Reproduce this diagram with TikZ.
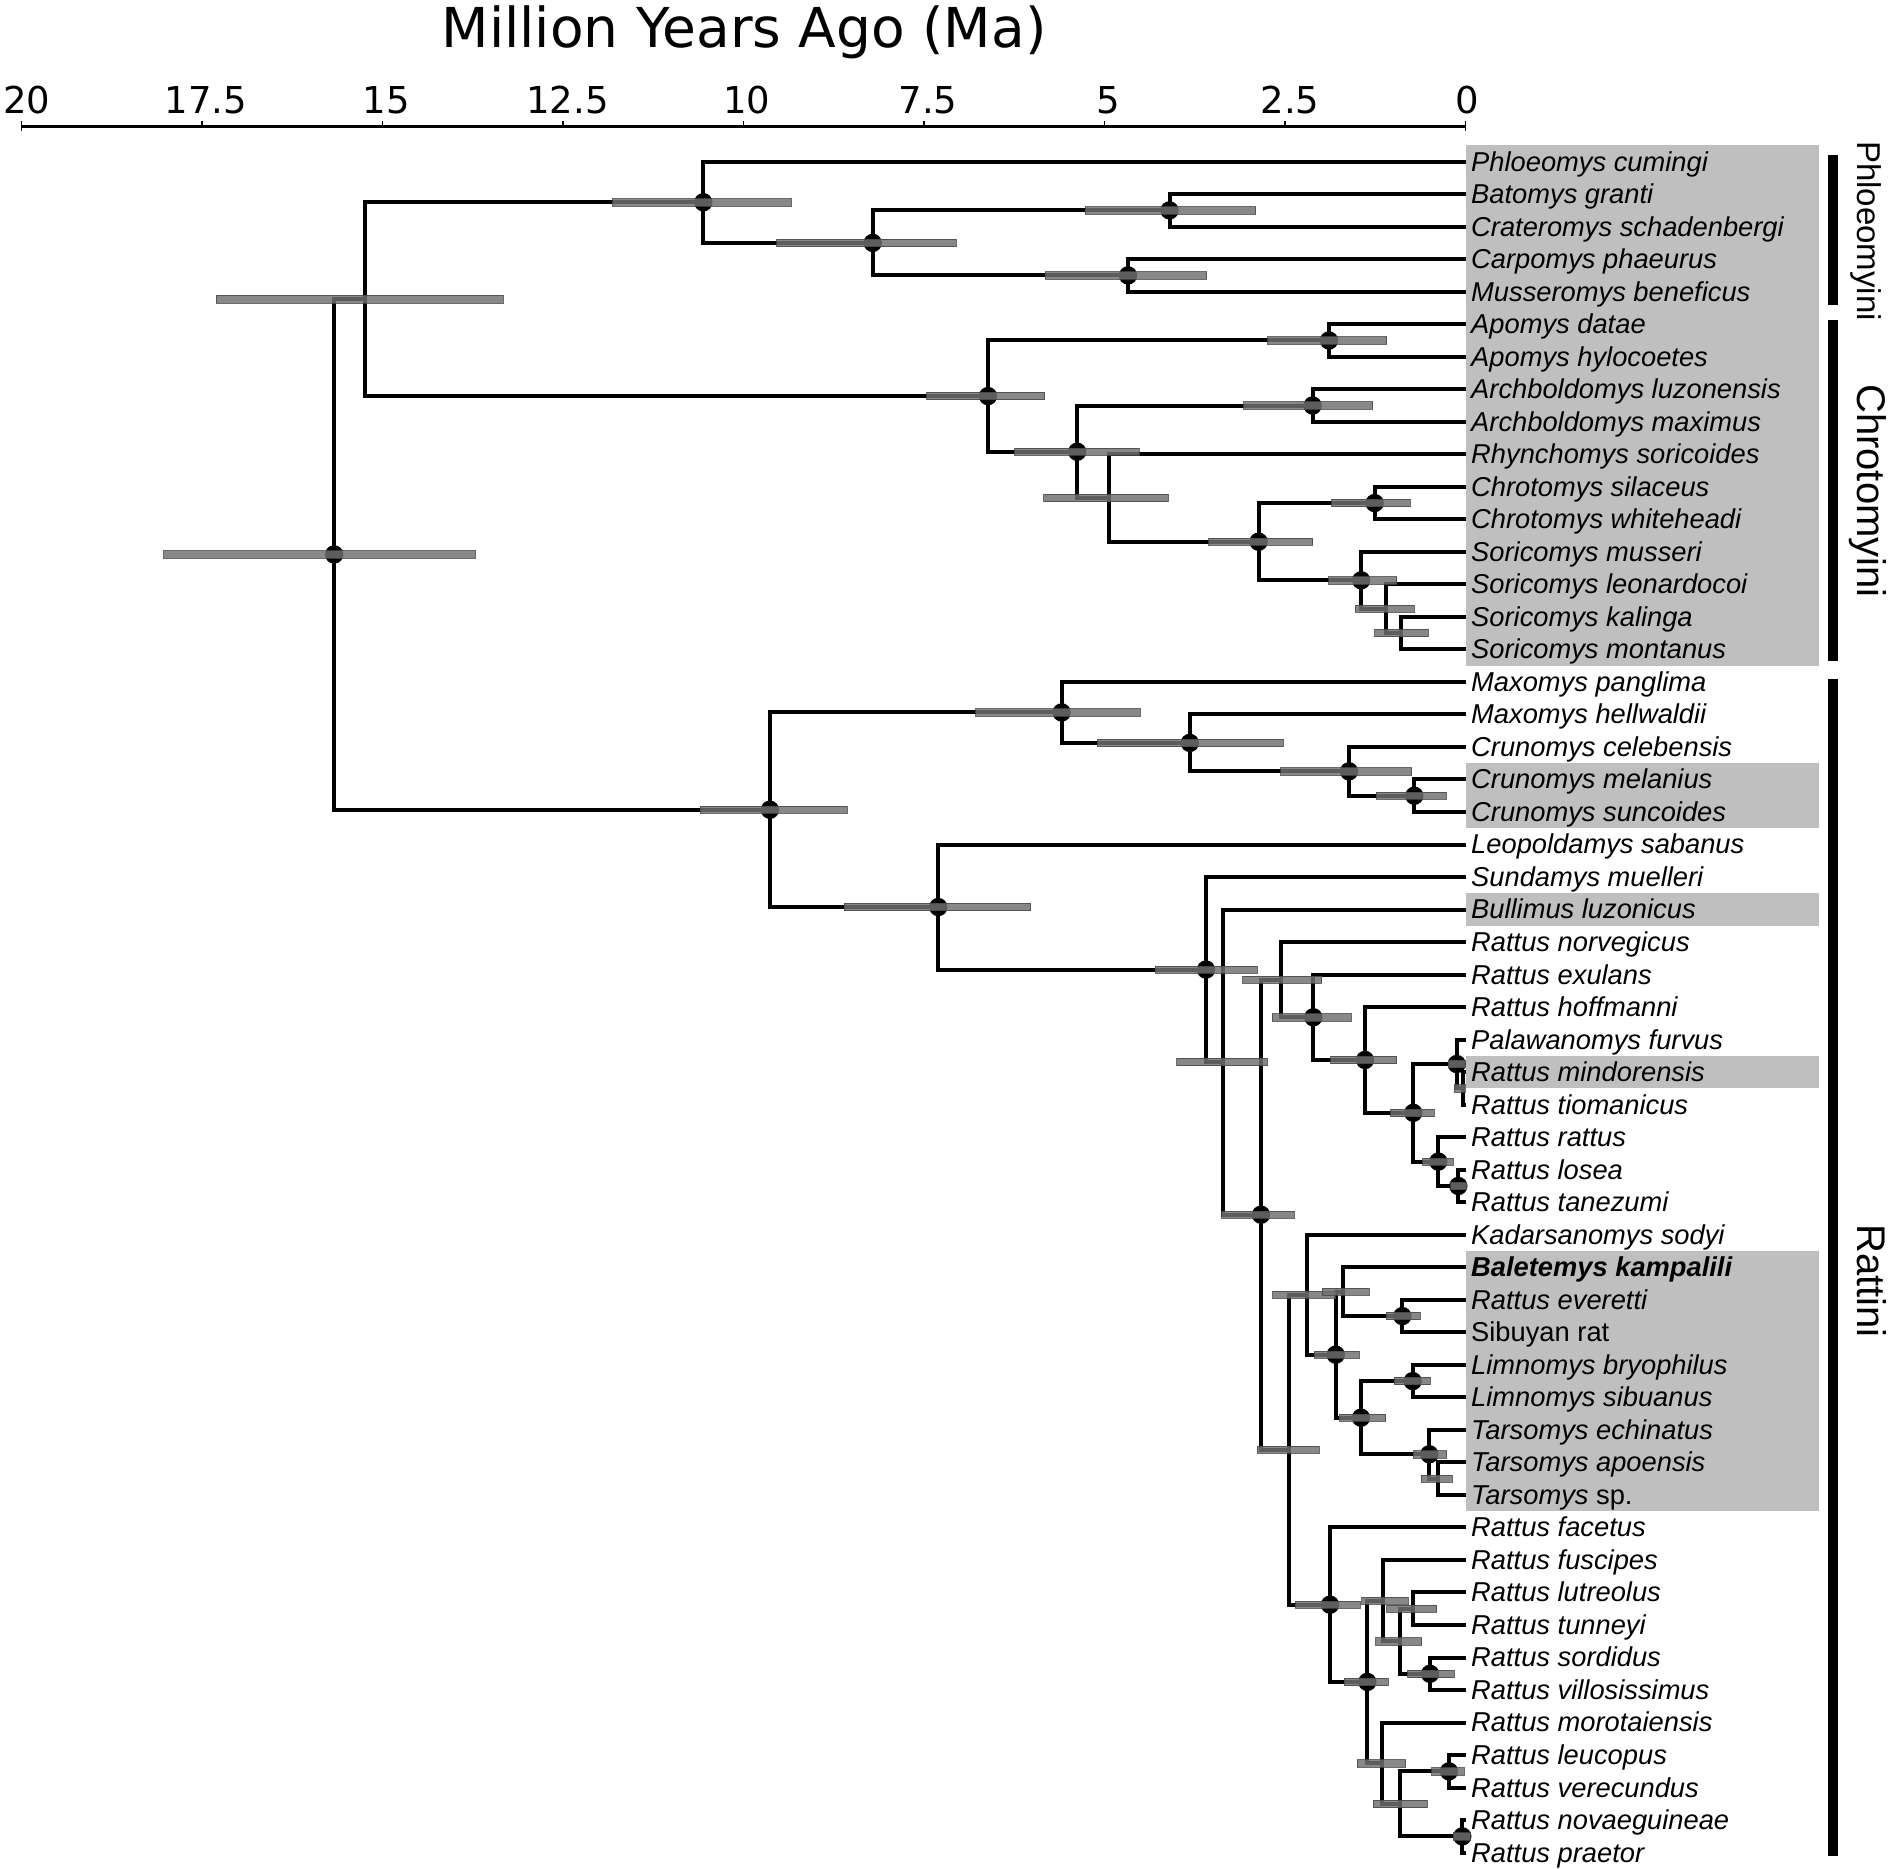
\documentclass[tikz,border=0pt]{standalone}
\usepackage{fontspec}
\setmainfont{DejaVu Sans}
\newfontfamily\cladefont{Liberation Sans}
\usetikzlibrary{calc}
\definecolor{boxgray}{RGB}{191,191,191}
\definecolor{barfill}{RGB}{112,112,112}
\definecolor{bardraw}{RGB}{70,70,70}
\newcommand{\tipY}[1]{129.08+32.52*(#1)}
\begin{document}
\begin{tikzpicture}[x=1pt,y=-1pt,
  branch/.style={line width=4pt},
  hpd/.style={fill=barfill, fill opacity=0.83, draw=bardraw, draw opacity=0.8, line width=0.7pt},
  supp/.style={fill=black},
  tiplab/.style={anchor=base west, inner sep=0pt, font=\cladefont\itshape\fontsize{27.3}{27.3}\selectfont},
  cladelab/.style={rotate=-90, anchor=base, inner sep=0pt},
  cladebar/.style={fill=black},
  axnum/.style={anchor=base, inner sep=0pt, font=\fontsize{37}{37}\selectfont}]
\useasboundingbox (0,0) rectangle (1891,1869);

% label background boxes
\fill[boxgray] (1466,{\tipY{1}-16.26}) rectangle (1819,{\tipY{16}+16.26});
\fill[boxgray] (1466,{\tipY{20}-16.26}) rectangle (1819,{\tipY{21}+16.26});
\fill[boxgray] (1466,{\tipY{24}-16.26}) rectangle (1819,{\tipY{24}+16.26});
\fill[boxgray] (1466,{\tipY{29}-16.26}) rectangle (1819,{\tipY{29}+16.26});
\fill[boxgray] (1466,{\tipY{35}-16.26}) rectangle (1819,{\tipY{42}+16.26});

% tip coordinates
\foreach \i in {1,...,53} \coordinate (t\i) at (1466,{\tipY{\i}});

% internal nodes
\foreach \nn/\xx/\yy in {R0/334.2/13.0803, R1/364.8/5.2305, P1/703.3/2.25, P2/872.7/3.5,
  P3/1169.5/2.5, P4/1128/4.5, C1/988/8.2109, A/1329/6.5, C2/1077.2/9.9219, B/1312.6/8.5,
  C3/1108.6/11.3438, C4/1258.6/12.6875, Ch/1374.6/11.5, S1/1361.2/13.875, S2/1386/14.75,
  S3/1401.3/15.5, R2/769.9/20.9302, M1/1061.7/17.9375, M2/1189.8/18.875, M3/1349/19.75,
  M4/1414.3/20.5, R3/938.3/23.9229, R4/1206/25.8457, R5/1222.7/28.6914, R6/1261/33.3828,
  R7/1280.7/26.1563, R8/1313.3/27.3125, R9/1365/28.625, R10/1413.3/30.25, R11/1456.7/28.75,
  R12/1462.7/29.5, R13/1438.3/31.75, R14/1458.3/32.5, R15/1289.3/40.6094, R16/1306.7/35.8438,
  R17/1335.7/37.6875, R18/1343.3/35.75, R19/1402.3/36.5, R20/1361/39.625, R21/1412.7/38.5,
  R22/1429.3/40.75, R23/1437.7/41.5, R24/1330/45.375, R25/1367.3/47.75, R26/1383.3/45.25,
  R27/1400/46.5, R28/1413.3/45.5, R29/1430/47.5, R30/1381.7/50.25, R31/1400/51.5,
  R32/1449/50.5, R33/1462.3/52.5}
  \coordinate (\nn) at (\xx,{\tipY{\yy}});

% branches
\foreach \pa/\ch in {R0/R1, R0/R2, R1/P1, R1/C1, P1/t1, P1/P2, P2/P3, P2/P4, P3/t2, P3/t3,
  P4/t4, P4/t5, C1/A, C1/C2, A/t6, A/t7, C2/B, C2/C3, B/t8, B/t9, C3/t10, C3/C4,
  C4/Ch, C4/S1, Ch/t11, Ch/t12, S1/t13, S1/S2, S2/t14, S2/S3, S3/t15, S3/t16,
  R2/M1, R2/R3, M1/t17, M1/M2, M2/t18, M2/M3, M3/t19, M3/M4, M4/t20, M4/t21,
  R3/t22, R3/R4, R4/t23, R4/R5, R5/t24, R5/R6, R6/R7, R6/R15, R7/t25, R7/R8,
  R8/t26, R8/R9, R9/t27, R9/R10, R10/R11, R10/R13, R11/t28, R11/R12, R12/t29, R12/t30,
  R13/t31, R13/R14, R14/t32, R14/t33, R15/R16, R15/R24, R16/t34, R16/R17, R17/R18, R17/R20,
  R18/t35, R18/R19, R19/t36, R19/t37, R20/R21, R20/R22, R21/t38, R21/t39, R22/t40, R22/R23,
  R23/t41, R23/t42, R24/t43, R24/R25, R25/R26, R25/R30, R26/t44, R26/R27, R27/R28, R27/R29,
  R28/t45, R28/t46, R29/t47, R29/t48, R30/t49, R30/R31, R31/R32, R31/R33, R32/t50, R32/t51,
  R33/t52, R33/t53}
  \draw[branch] (\pa) |- (\ch);

% supported nodes
\foreach \nn in {R0,P1,P2,P3,P4,C1,A,C2,B,C4,Ch,S1,R2,M1,M2,M3,M4,R3,R4,R6,R8,R9,R10,R11,
  R13,R14,R17,R19,R20,R21,R22,R24,R25,R29,R32,R33}
  \fill[supp] (\nn) circle (9.2pt);

% HPD bars
\foreach \nn/\lo/\hi in {R0/163.8/475, R1/216.3/503, P1/612.6/791.2, P2/776.8/955.9,
  P3/1085/1255.6, P4/1044.9/1206.8, C1/926.8/1044.7, A/1267.5/1386.6, C2/1014.8/1139.2,
  B/1243.7/1372.6, C3/1043.5/1167.9, C4/1208.8/1312.6, Ch/1331.7/1410.1, S1/1328.6/1396.7,
  S2/1355.4/1414, S3/1374.6/1428.1, R2/700/847.4, M1/975.5/1140.3, M2/1096.9/1283.2,
  M3/1280.6/1411.7, M4/1376/1445.9, R3/844.4/1030.6, R4/1155/1257.2, R5/1176.7/1267.3,
  R6/1221.7/1294.3, R7/1242.7/1321.7, R8/1272.3/1351, R9/1330.7/1396.7, R10/1390.7/1434.3,
  R11/1448.3/1465, R12/1454.3/1465, R13/1422.7/1453.3, R14/1450.7/1466.7, R15/1257.3/1319,
  R16/1272.7/1335, R17/1314/1359.3, R18/1322.3/1369.3, R19/1386/1420, R20/1339/1385.7,
  R21/1394.3/1430, R22/1413.3/1446.7, R23/1421/1452.3, R24/1295/1360, R25/1344.3/1388.3,
  R26/1361.7/1408.3, R27/1375.7/1421.7, R28/1386.7/1436.7, R29/1407.7/1454, R30/1357.3/1405.7,
  R31/1373.3/1427.3, R32/1431.7/1464, R33/1453.3/1470}
  \path[hpd] let \p1=(\nn) in (\lo pt,\y1-3.7pt) rectangle (\hi pt,\y1+3.7pt);

% tip labels
\foreach \i/\nm in {1/Phloeomys cumingi, 2/Batomys granti, 3/Crateromys schadenbergi,
  4/Carpomys phaeurus, 5/Musseromys beneficus, 6/Apomys datae, 7/Apomys hylocoetes,
  8/Archboldomys luzonensis, 9/Archboldomys maximus, 10/Rhynchomys soricoides,
  11/Chrotomys silaceus, 12/Chrotomys whiteheadi, 13/Soricomys musseri,
  14/Soricomys leonardocoi, 15/Soricomys kalinga, 16/Soricomys montanus,
  17/Maxomys panglima, 18/Maxomys hellwaldii, 19/Crunomys celebensis,
  20/Crunomys melanius, 21/Crunomys suncoides, 22/Leopoldamys sabanus,
  23/Sundamys muelleri, 24/Bullimus luzonicus, 25/Rattus norvegicus, 26/Rattus exulans,
  27/Rattus hoffmanni, 28/Palawanomys furvus, 29/Rattus mindorensis, 30/Rattus tiomanicus,
  31/Rattus rattus, 32/Rattus losea, 33/Rattus tanezumi, 34/Kadarsanomys sodyi,
  35/{\bfseries Baletemys kampalili}, 36/Rattus everetti, 37/{\upshape Sibuyan rat},
  38/Limnomys bryophilus, 39/Limnomys sibuanus, 40/Tarsomys echinatus,
  41/Tarsomys apoensis, 42/{Tarsomys \upshape sp.}, 43/Rattus facetus, 44/Rattus fuscipes,
  45/Rattus lutreolus, 46/Rattus tunneyi, 47/Rattus sordidus, 48/Rattus villosissimus,
  49/Rattus morotaiensis, 50/Rattus leucopus, 51/Rattus verecundus,
  52/Rattus novaeguineae, 53/Rattus praetor}
  \node[tiplab] (lab\i) at (1471,{\tipY{\i}+9.4}) {\nm};

% clade bars and labels
\fill[cladebar] (1828,154.5) rectangle (1838,304.6);
\fill[cladebar] (1828,320) rectangle (1838,660.5);
\fill[cladebar] (1828,679) rectangle (1838,1856);
\node[cladelab, font=\cladefont\fontsize{33}{33}\selectfont] (cPh) at (1857,231) {Phloeomyini};
\node[cladelab, font=\cladefont\fontsize{40}{40}\selectfont] (cCh) at (1857,491) {Chrotomyini};
\node[cladelab, font=\cladefont\fontsize{40}{40}\selectfont] (cRa) at (1857,1281) {Rattini};

% time axis
\node[anchor=base, inner sep=0pt, font=\fontsize{55}{55}\selectfont] (title) at (744,47) {Million Years Ago (Ma)};
\coordinate (axL) at (21.6,126.7);
\coordinate (axR) at (1465.6,126.7);
\draw[line width=3.3pt] (axL) -- (axR);
\foreach \k in {0,...,8} {
  \coordinate (tk\k) at ({1465.6-180.5*\k},126.7);
  \draw[line width=1.6pt] (tk\k) -- ++(0,-6);
}
\draw[line width=1.6pt] (axL) -- ++(0,4);
\draw[line width=1.6pt] (axR) -- ++(0,4);
\foreach \k/\t/\xx in {8/20/27, 7/17.5/206, 6/15/386.5, 5/12.5/567.5, 4/10/747, 3/7.5/928, 2/5/1108.5, 1/2.5/1290, 0/0/1467}
  \node[axnum] (num\k) at (\xx,113) {\t};
\end{tikzpicture}
\end{document}
